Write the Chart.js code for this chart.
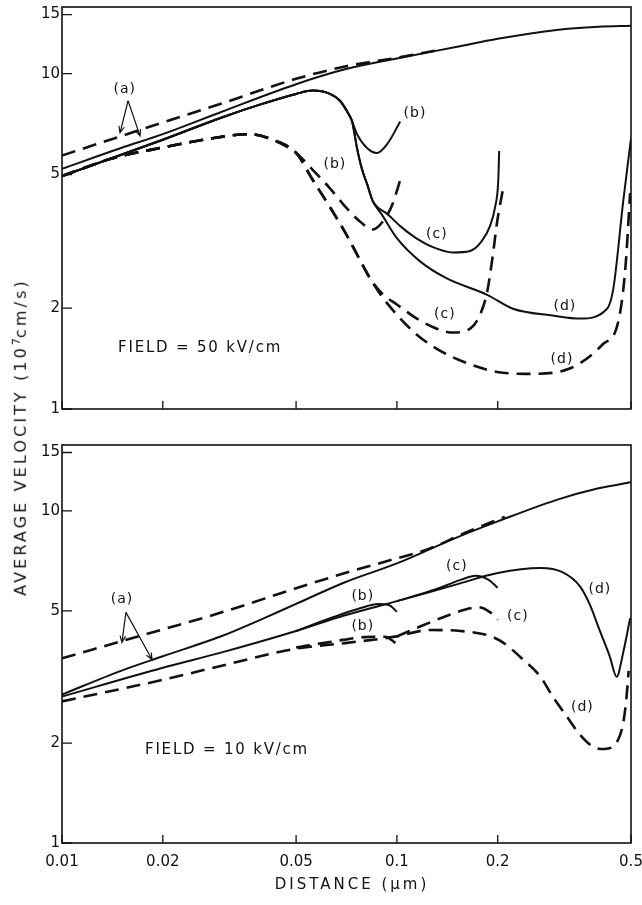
<!DOCTYPE html>
<html>
<head>
<meta charset="utf-8">
<title>Average velocity vs distance</title>
<script src="https://cdn.jsdelivr.net/npm/chart.js@4.4.1/dist/chart.umd.min.js"></script>
<style>
  html, body { margin: 0; padding: 0; background: #fff; }
  #wrap { position: relative; width: 642px; height: 905px; overflow: hidden; font-family: "DejaVu Sans", sans-serif; color: #111; }
  canvas { position: absolute; left: 0; }
  #c50 { top: 0; }
  #c10 { top: 420px; }
  #ytitle { position: absolute; left: 20px; top: 437px; transform: translate(-50%, -50%) rotate(-90deg); white-space: nowrap; font-size: 16px; letter-spacing: 3.1px; }
  #ytitle sup { font-size: 11px; letter-spacing: 0; }
  #xtitle { position: absolute; left: 352px; top: 884px; transform: translate(-50%, -50%); white-space: nowrap; font-size: 15px; letter-spacing: 3px; }
</style>
</head>
<body>
<div id="wrap">
  <canvas id="c50" width="642" height="420"></canvas>
  <canvas id="c10" width="642" height="485"></canvas>
  <div id="ytitle">AVERAGE VELOCITY (10<sup>7</sup>cm/s)</div>
  <div id="xtitle">DISTANCE (μm)</div>
</div>
<script>
// axes
const xTicks = [0.01, 0.02, 0.05, 0.1, 0.2, 0.5];
const xTickLabels = ['0.01', '0.02', '0.05', '0.1', '0.2', '0.5'];
const yTicks = [1, 2, 5, 10, 15];
const yTickLabels = ['1', '2', '5', '10', '15'];

// ---------- FIELD = 50 kV/cm (distance in um, velocity in 1e7 cm/s) ----------
const f50_aSolid_x = [0.01, 0.015, 0.02, 0.03, 0.05, 0.07, 0.1, 0.15, 0.2, 0.3, 0.4, 0.5];
const f50_aSolid_v = [5.2, 6.0, 6.6, 7.7, 9.3, 10.3, 11.1, 12.0, 12.7, 13.5, 13.8, 13.9];
const f50_aDash_x = [0.01, 0.02, 0.03, 0.05, 0.07, 0.1, 0.13];
const f50_aDash_v = [5.7, 7.15, 8.15, 9.65, 10.5, 11.15, 11.7];

// solid: common start of (b), (c), (d)
const f50_trunkSolid_x = [0.01, 0.02, 0.03, 0.04, 0.05, 0.056, 0.0631, 0.0676, 0.0716, 0.0735];
const f50_trunkSolid_v = [4.95, 6.35, 7.4, 8.15, 8.7, 8.9, 8.7, 8.3, 7.6, 7.2];
const f50_bSolid_x = [0.076, 0.0814, 0.0871, 0.0939, 0.1023];
const f50_bSolid_v = [6.6, 6.0, 5.8, 6.2, 7.2];
const f50_cdSolid_x = [0.076, 0.0786, 0.0814, 0.0847];
const f50_cdSolid_v = [6.0, 5.2, 4.7, 4.17];
const f50_cSolid_x = [0.0939, 0.1023, 0.1132, 0.127, 0.147, 0.1654, 0.179, 0.1896, 0.1966, 0.2007, 0.202];
const f50_cSolid_v = [3.81, 3.51, 3.25, 3.05, 2.93, 2.96, 3.16, 3.51, 4.02, 4.78, 5.88];
const f50_dSolid_x = [0.09, 0.1, 0.117, 0.141, 0.186, 0.222, 0.292, 0.352, 0.424, 0.443, 0.474, 0.5];
const f50_dSolid_v = [3.81, 3.23, 2.76, 2.45, 2.19, 1.99, 1.9, 1.86, 1.99, 2.29, 4.17, 6.4];

// dashed: common start of (b), (c), (d)
const f50_trunkDash_x = [0.01, 0.014, 0.0196, 0.0277, 0.0364, 0.0426, 0.05];
const f50_trunkDash_v = [4.95, 5.57, 6.0, 6.4, 6.6, 6.35, 5.8];
const f50_bDash_x = [0.0562, 0.0631, 0.0708, 0.0774, 0.0847, 0.0922, 0.0972, 0.1025];
const f50_bDash_v = [5.15, 4.55, 3.97, 3.63, 3.43, 3.7, 4.1, 4.85];
const f50_cdDash_x = [0.0562, 0.0631, 0.0708, 0.076, 0.0832];
const f50_cdDash_v = [4.8, 4.0, 3.3, 2.89, 2.45];
const f50_cDash_x = [0.0907, 0.1, 0.1147, 0.1316, 0.1472, 0.1655, 0.1771, 0.1861, 0.1935, 0.1993, 0.2068];
const f50_cDash_v = [2.2, 2.05, 1.86, 1.736, 1.69, 1.736, 1.91, 2.24, 2.89, 3.63, 4.46];
const f50_dDash_x = [0.0907, 0.1, 0.1147, 0.1316, 0.158, 0.1993, 0.25, 0.328, 0.412, 0.458, 0.481, 0.497];
const f50_dDash_v = [2.15, 1.91, 1.666, 1.512, 1.383, 1.29, 1.273, 1.32, 1.56, 1.82, 2.63, 4.4];

// ---------- FIELD = 10 kV/cm ----------
const f10_aSolid_x = [0.01, 0.015, 0.02, 0.03, 0.04, 0.05, 0.07, 0.1, 0.15, 0.2, 0.3, 0.4, 0.5];
const f10_aSolid_v = [2.8, 3.3, 3.65, 4.2, 4.75, 5.25, 6.1, 6.95, 8.3, 9.3, 10.8, 11.7, 12.2];
const f10_aDash_x = [0.01, 0.02, 0.03, 0.05, 0.07, 0.1, 0.125, 0.16, 0.21];
const f10_aDash_v = [3.6, 4.4, 4.95, 5.85, 6.5, 7.2, 7.7, 8.6, 9.6];

const f10_dSolid_x = [0.01, 0.02, 0.03, 0.05, 0.07, 0.1, 0.15, 0.2, 0.268, 0.312, 0.352, 0.376, 0.402, 0.432, 0.453, 0.474, 0.497];
const f10_dSolid_v = [2.76, 3.37, 3.75, 4.35, 4.85, 5.35, 6.0, 6.5, 6.73, 6.54, 5.93, 5.25, 4.4, 3.65, 3.17, 3.75, 4.75];
const f10_bSolid_x = [0.05, 0.065, 0.078, 0.088, 0.095, 0.1];
const f10_bSolid_v = [4.35, 4.8, 5.1, 5.25, 5.2, 4.97];
const f10_cSolid_x = [0.1, 0.13, 0.155, 0.172, 0.188, 0.2];
const f10_cSolid_v = [5.35, 5.8, 6.2, 6.38, 6.2, 5.87];

const f10_dDash_x = [0.01, 0.02, 0.03, 0.05, 0.07, 0.1, 0.125, 0.155, 0.19, 0.207, 0.238, 0.268, 0.292, 0.322, 0.352, 0.385, 0.417, 0.458, 0.474, 0.484, 0.492];
const f10_dDash_v = [2.67, 3.1, 3.42, 3.85, 4.0, 4.19, 4.38, 4.35, 4.2, 4.02, 3.57, 3.17, 2.76, 2.4, 2.12, 1.95, 1.92, 2.05, 2.3, 2.7, 3.3];
const f10_bDash_x = [0.05, 0.065, 0.08, 0.092, 0.1];
const f10_bDash_v = [3.88, 4.05, 4.17, 4.18, 3.98];
const f10_cDash_x = [0.1, 0.115, 0.14, 0.16, 0.175, 0.19, 0.2];
const f10_cDash_v = [4.19, 4.45, 4.82, 5.05, 5.13, 4.95, 4.7];

// annotations: [text, x, v]
const f50_labels = [['(a)', 0.0154, 9.0], ['(b)', 0.1132, 7.6], ['(b)', 0.0653, 5.38], ['(c)', 0.1316, 3.32],
                    ['(c)', 0.139, 1.91], ['(d)', 0.3173, 2.03], ['(d)', 0.311, 1.41]];
const f50_arrows = [[0.01575, 8.3, 0.0149, 6.66], [0.01575, 8.3, 0.0171, 6.52]];
const f10_labels = [['(a)', 0.0151, 5.42], ['(b)', 0.0791, 5.53], ['(b)', 0.0791, 4.49], ['(c)', 0.151, 6.82],
                    ['(c)', 0.2297, 4.82], ['(d)', 0.4036, 5.81], ['(d)', 0.358, 2.56]];
const f10_arrows = [[0.01552, 4.95, 0.0151, 4.02], [0.01552, 4.95, 0.01857, 3.57]];

function pts(xs, vs) {
  return xs.map(function (x, i) { return { x: x, y: vs[i] }; });
}
function join() {
  let out = [];
  for (let i = 0; i < arguments.length; i += 2) out = out.concat(pts(arguments[i], arguments[i + 1]));
  return out;
}
function line(data, dashed) {
  return {
    data: data,
    borderColor: '#111',
    borderWidth: dashed ? 2.6 : 2,
    borderDash: dashed ? [14, 8] : [],
    borderCapStyle: 'butt',
    pointRadius: 0,
    fill: false,
    tension: 0.4,
    cubicInterpolationMode: 'monotone'
  };
}

function decor(name, labels, arrows, field) {
  return {
    id: 'decor_' + name,
    afterDatasetsDraw(chart) {
      const ctx = chart.ctx, a = chart.chartArea;
      const sx = chart.scales.x, sy = chart.scales.y;
      const px = v => sx.getPixelForValue(v), py = v => sy.getPixelForValue(v);
      ctx.save();
      ctx.strokeStyle = '#111';
      ctx.lineWidth = 1.6;
      ctx.strokeRect(a.left, a.top, a.right - a.left, a.bottom - a.top);
      ctx.lineWidth = 1.3;
      ctx.beginPath();
      xTicks.forEach(v => { ctx.moveTo(px(v), a.bottom); ctx.lineTo(px(v), a.bottom - 8); });
      yTicks.forEach(v => { ctx.moveTo(a.left, py(v)); ctx.lineTo(a.left + 10, py(v)); });
      ctx.stroke();

      ctx.lineWidth = 1.2;
      arrows.forEach(ar => {
        const x0 = px(ar[0]), y0 = py(ar[1]), x1 = px(ar[2]), y1 = py(ar[3]);
        const ang = Math.atan2(y1 - y0, x1 - x0), h = 7;
        ctx.beginPath();
        ctx.moveTo(x0, y0); ctx.lineTo(x1, y1);
        ctx.moveTo(x1 - h * Math.cos(ang - 0.4), y1 - h * Math.sin(ang - 0.4));
        ctx.lineTo(x1, y1);
        ctx.lineTo(x1 - h * Math.cos(ang + 0.4), y1 - h * Math.sin(ang + 0.4));
        ctx.stroke();
      });

      ctx.fillStyle = '#111';
      ctx.textAlign = 'center';
      ctx.textBaseline = 'middle';
      ctx.font = '14px "DejaVu Sans"';
      ctx.letterSpacing = '1px';
      labels.forEach(l => ctx.fillText(l[0], px(l[1]), py(l[2])));

      ctx.textAlign = 'left';
      ctx.font = '15px "DejaVu Sans"';
      ctx.letterSpacing = '1.8px';
      ctx.fillText(field[0], px(field[1]), py(field[2]));
      ctx.restore();
    }
  };
}

function makeChart(id, datasets, padTop, xHeight, showX, plugin) {
  const tickFont = { family: 'DejaVu Sans', size: 15 };
  return new Chart(document.getElementById(id), {
    type: 'line',
    data: { datasets: datasets },
    options: {
      responsive: false,
      animation: false,
      events: [],
      layout: { padding: { top: padTop, right: 11, left: 0, bottom: 0 } },
      plugins: { legend: { display: false }, tooltip: { enabled: false } },
      scales: {
        x: {
          type: 'logarithmic', min: 0.01, max: 0.5,
          grid: { display: false, drawTicks: false }, border: { display: false },
          afterBuildTicks: ax => { ax.ticks = xTicks.map(v => ({ value: v })); },
          afterFit: ax => { ax.height = xHeight; ax.paddingLeft = 0; ax.paddingRight = 0; },
          ticks: {
            display: showX, autoSkip: false, maxRotation: 0, padding: 10,
            color: '#111', font: tickFont,
            callback: (v, i) => xTickLabels[i]
          }
        },
        y: {
          type: 'logarithmic', min: 1, max: 15.8,
          grid: { display: false, drawTicks: false }, border: { display: false },
          afterBuildTicks: ax => { ax.ticks = yTicks.map(v => ({ value: v })); },
          afterFit: ax => { ax.width = 62; ax.paddingTop = 0; ax.paddingBottom = 0; },
          ticks: {
            autoSkip: false, padding: 2, color: '#111', font: tickFont,
            callback: (v, i) => yTickLabels[i]
          }
        }
      }
    },
    plugins: [plugin]
  });
}

makeChart('c50', [
  line(pts(f50_aSolid_x, f50_aSolid_v), false),
  line(pts(f50_aDash_x, f50_aDash_v), true),
  line(join(f50_trunkSolid_x, f50_trunkSolid_v, f50_bSolid_x, f50_bSolid_v), false),
  line(join(f50_trunkSolid_x, f50_trunkSolid_v, f50_cdSolid_x, f50_cdSolid_v, f50_cSolid_x, f50_cSolid_v), false),
  line(join(f50_trunkSolid_x, f50_trunkSolid_v, f50_cdSolid_x, f50_cdSolid_v, f50_dSolid_x, f50_dSolid_v), false),
  line(join(f50_trunkDash_x, f50_trunkDash_v, f50_bDash_x, f50_bDash_v), true),
  line(join(f50_trunkDash_x, f50_trunkDash_v, f50_cdDash_x, f50_cdDash_v, f50_cDash_x, f50_cDash_v), true),
  line(join(f50_trunkDash_x, f50_trunkDash_v, f50_cdDash_x, f50_cdDash_v, f50_dDash_x, f50_dDash_v), true)
], 7, 11, false, decor('f50', f50_labels, f50_arrows, ['FIELD = 50 kV/cm', 0.0147, 1.515]));

makeChart('c10', [
  line(pts(f10_aSolid_x, f10_aSolid_v), false),
  line(pts(f10_aDash_x, f10_aDash_v), true),
  line(pts(f10_dSolid_x, f10_dSolid_v), false),
  line(pts(f10_bSolid_x, f10_bSolid_v), false),
  line(pts(f10_cSolid_x, f10_cSolid_v), false),
  line(pts(f10_dDash_x, f10_dDash_v), true),
  line(pts(f10_bDash_x, f10_bDash_v), true),
  line(pts(f10_cDash_x, f10_cDash_v), true)
], 25, 62, true, decor('f10', f10_labels, f10_arrows, ['FIELD = 10 kV/cm', 0.01769, 1.91]));
</script>
</body>
</html>
